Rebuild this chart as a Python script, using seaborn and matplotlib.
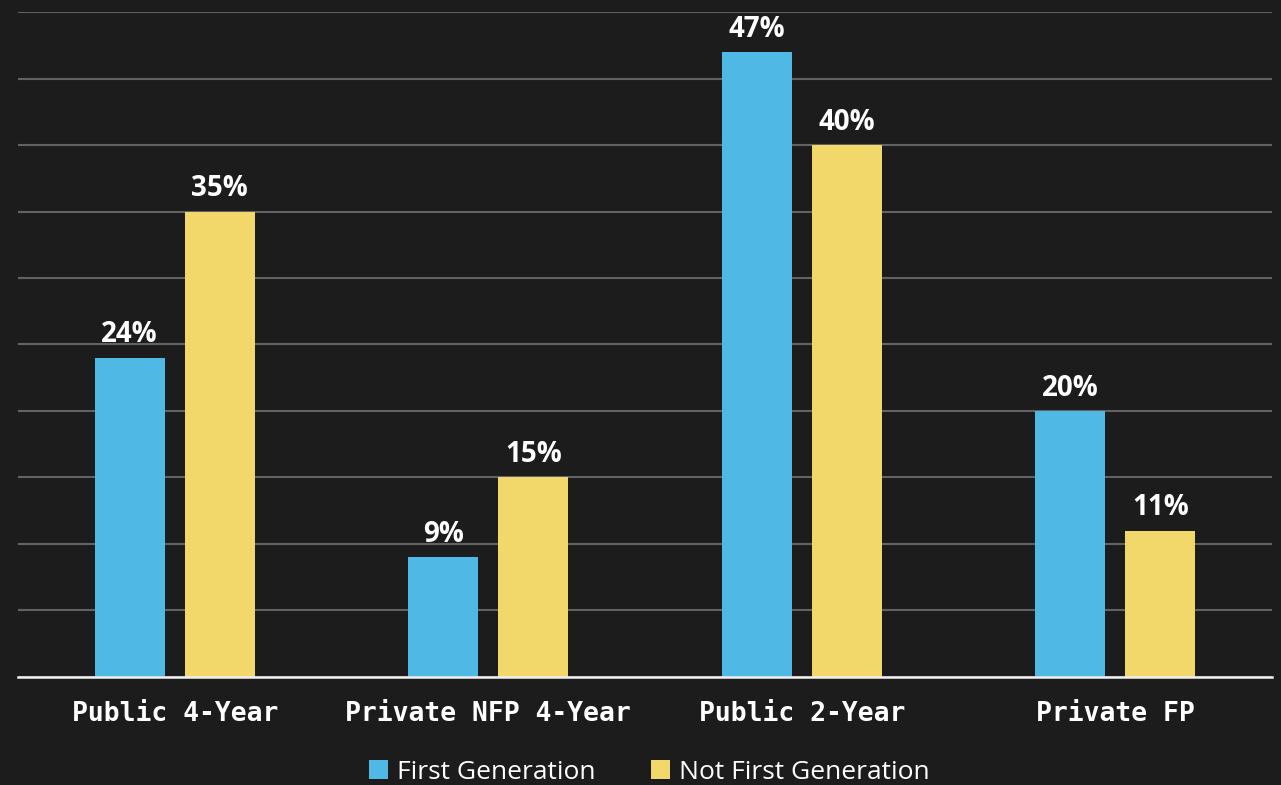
import matplotlib
matplotlib.use("Agg")
import matplotlib.pyplot as plt
import seaborn as sns
import pandas as pd
from matplotlib.patches import Patch

categories = ["Public 4-Year", "Private NFP 4-Year", "Public 2-Year", "Private FP"]
first_gen = [24, 9, 47, 20]
not_first_gen = [35, 15, 40, 11]
series_names = ["First Generation", "Not First Generation"]
colors = ["#50b8e4", "#f2d86b"]

df = pd.DataFrame({
    "category": categories * 2,
    "group": [series_names[0]] * 4 + [series_names[1]] * 4,
    "value": first_gen + not_first_gen,
})

bg = "#1c1c1c"
sns.set_theme(style="dark")
fig = plt.figure(figsize=(12.81, 7.85), dpi=100, facecolor=bg)
ax = fig.add_axes([0.014, 0.1376, 0.979, 0.8471])
ax.set_facecolor(bg)

sns.barplot(data=df, x="category", y="value", hue="group", order=categories,
            hue_order=series_names, palette=colors, saturation=1, width=0.574, gap=0.223,
            linewidth=0, ax=ax, legend=False, zorder=3)

ax.set_ylim(0, 50)
ax.set_xlim(-0.5, 3.5)
ax.set_yticks(range(0, 51, 5))
ax.yaxis.grid(True, color="#626262", linewidth=1.5, zorder=0)
ax.xaxis.grid(False)
ax.set_yticklabels([])
ax.tick_params(axis="y", length=0)
ax.tick_params(axis="x", length=0, pad=17)
for s in ["top", "left", "right"]:
    ax.spines[s].set_visible(False)
ax.spines["bottom"].set_color("#f0f0f0")
ax.spines["bottom"].set_linewidth(1.8)
ax.spines["bottom"].set_zorder(4)
ax.set_xlabel("")
ax.set_ylabel("")
for lbl in ax.get_xticklabels():
    lbl.set_fontfamily("DejaVu Sans Mono")
    lbl.set_fontweight("bold")
    lbl.set_fontsize(19)
    lbl.set_color("white")

for cont in ax.containers:
    labels = [f"{int(round(b.get_height()))}%" for b in cont]
    ax.bar_label(cont, labels=labels, padding=6, color="white", fontsize=20,
                 fontweight="bold", fontfamily="Open Sans")

handles = [Patch(facecolor=c, edgecolor="none") for c in colors]
fig.legend(handles, series_names, loc="center", bbox_to_anchor=(0.507, 0.016),
           ncol=2, frameon=False, labelcolor="white",
           handlelength=0.7, handleheight=0.7, handletextpad=0.35, columnspacing=2.1,
           prop={"family": "Open Sans", "size": 19})

fig.savefig("out.png", dpi=100, facecolor=bg)
